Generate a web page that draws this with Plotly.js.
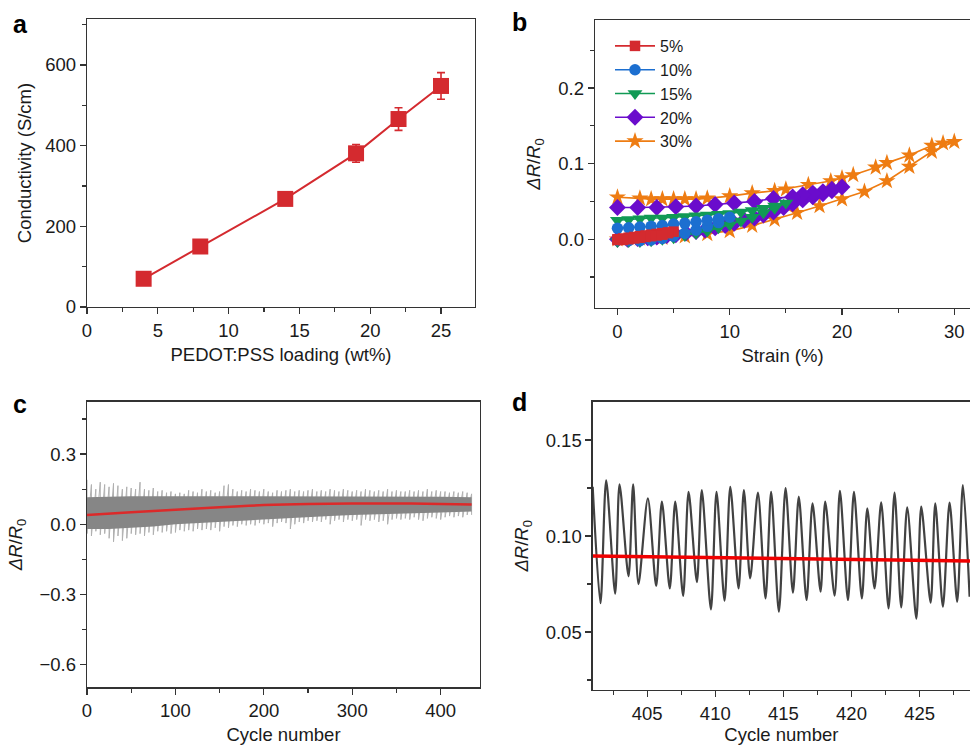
<!DOCTYPE html>
<html><head><meta charset="utf-8">
<script src="https://cdn.plot.ly/plotly-3.0.1.min.js"></script>
<style>body{margin:0;background:#fff}#chart{width:970px;height:745px}</style>
</head><body><div id="chart"></div>
<script>
// ---------- Panel a ----------
const loading = [4, 8, 14, 19, 22, 25];
const conductivity = [70, 150, 268, 381, 466, 548];
const conductivityErr = [6, 6, 6, 22, 28, 33];

// ---------- Panel b ----------
const strain5 = [0,0.5,1,1.5,2,2.5,3,3.5,4,4.5,5,4.5,4,3.5,3,2.5,2,1.5,1,0.5,0];
const dR5 = [0,0.001,0.002,0.003,0.004,0.005,0.006,0.007,0.008,0.009,0.010,0.008,0.006,0.005,0.004,0.003,0.002,0.001,0,-0.001,-0.001];
const strain10 = [0,1,2,3,4,5,6,7,8,9,10,9,8,7,6,5,4,3,2,1,0];
const dR10 = [-0.001,-0.002,-0.002,-0.001,0.001,0.004,0.008,0.012,0.017,0.022,0.029,0.027,0.025,0.023,0.021,0.020,0.018,0.017,0.016,0.015,0.0145];
const strain15 = [0,1,2,3,4,5,6,7,8,9,10,11,12,13,14,15,14,13,12,11,10,9,8,7,6,5,4,3,2,1,0];
const dR15 = [-0.003,-0.003,-0.003,-0.002,0.000,0.002,0.005,0.008,0.011,0.015,0.019,0.024,0.029,0.035,0.041,0.048,0.044,0.041,0.038,0.036,0.034,0.033,0.032,0.031,0.030,0.029,0.028,0.028,0.027,0.026,0.025];
const strain20 = [0,0.9,1.8,2.7,3.5,4.4,5.2,6.1,7,7.8,8.7,9.6,10.4,11.3,12.2,13,13.9,14.8,15.6,16.5,17.4,18.3,19.1,20,19.1,18.3,17.4,16.5,15.6,13.9,12.2,10.4,8.7,7,5.2,3.5,1.8,0];
const dR20 = [0,0,0.001,0.002,0.003,0.005,0.006,0.008,0.010,0.012,0.015,0.018,0.021,0.025,0.028,0.032,0.036,0.042,0.047,0.052,0.056,0.060,0.064,0.069,0.066,0.063,0.061,0.059,0.056,0.054,0.050,0.048,0.046,0.044,0.043,0.042,0.042,0.042];
const strain30 = [0,2,4,6,8,10,12,14,16,18,20,22,24,26,28,30,29,28,26,24,23,21,20,19,17,15,14,12,10,8,7,6,5,4,3,2,0];
const dR30 = [0,0.001,0.002,0.004,0.007,0.011,0.018,0.026,0.035,0.044,0.053,0.063,0.077,0.096,0.116,0.129,0.127,0.124,0.111,0.101,0.095,0.085,0.081,0.077,0.072,0.066,0.064,0.061,0.057,0.054,0.053,0.053,0.053,0.053,0.053,0.054,0.0555];
const seriesNames = ['5%','10%','15%','20%','30%'];

// ---------- Panel c ----------
const cCycle = [0,5,10,15,20,25,30,35,40,45,50,55,60,65,70,75,80,85,90,95,100,105,110,115,120,125,130,135,140,145,150,155,160,165,170,175,180,185,190,195,200,205,210,215,220,225,230,235,240,245,250,255,260,265,270,275,280,285,290,295,300,305,310,315,320,325,330,335,340,345,350,355,360,365,370,375,380,385,390,395,400,405,410,415,420,425,430,435];
const cPeak = [0.19,0.17,0.15,0.18,0.17,0.16,0.175,0.165,0.15,0.16,0.155,0.15,0.18,0.15,0.145,0.155,0.14,0.145,0.135,0.14,0.13,0.135,0.13,0.145,0.14,0.135,0.15,0.14,0.145,0.135,0.14,0.165,0.17,0.15,0.14,0.145,0.14,0.15,0.145,0.14,0.15,0.14,0.135,0.145,0.14,0.145,0.15,0.14,0.145,0.14,0.145,0.15,0.14,0.145,0.14,0.15,0.145,0.14,0.15,0.145,0.14,0.145,0.14,0.15,0.145,0.14,0.145,0.14,0.15,0.14,0.145,0.14,0.14,0.145,0.14,0.145,0.14,0.15,0.14,0.145,0.14,0.14,0.135,0.14,0.135,0.14,0.135,0.13];
const cTrough = [-0.04,-0.05,-0.03,-0.045,-0.04,-0.06,-0.075,-0.05,-0.07,-0.06,-0.04,-0.045,-0.04,-0.05,-0.035,-0.045,-0.03,-0.035,-0.03,-0.04,-0.035,-0.025,-0.03,-0.025,-0.03,-0.02,-0.025,-0.02,-0.025,-0.015,-0.03,-0.01,-0.015,-0.005,-0.01,0.0,-0.005,0.0,-0.005,0.005,0.0,0.005,-0.01,0.005,0.01,0.005,-0.02,0.0,0.01,0.005,0.015,0.01,0.015,0.01,0.02,0.0,0.015,0.02,0.01,0.02,0.015,0.02,-0.005,0.02,0.015,0.02,0.01,0.015,0.0,0.02,0.025,0.02,0.025,0.02,0.03,0.02,0.015,0.025,0.03,0.025,0.02,0.03,0.035,0.03,0.035,0.03,0.04,0.04];
const cCoreCycle = [0,25,50,75,100,125,150,175,200,225,250,275,300,325,350,375,400,435];
const cCoreHi = [0.115,0.118,0.12,0.12,0.12,0.12,0.12,0.12,0.12,0.12,0.12,0.12,0.12,0.12,0.12,0.12,0.118,0.115];
const cCoreLo = [-0.02,-0.02,-0.015,-0.01,0.0,0.005,0.01,0.015,0.02,0.025,0.03,0.035,0.04,0.042,0.045,0.048,0.05,0.055];
const cFitCycle = [0,50,100,150,200,250,300,350,400,435];
const cFitValue = [0.040,0.051,0.062,0.073,0.082,0.087,0.089,0.089,0.087,0.085];

// ---------- Panel d ----------
const dCycle = [401.0,401.57,401.99,402.65,402.97,403.63,403.97,404.36,405.05,405.66,406.08,406.66,407.06,407.64,408.04,408.65,409.01,409.68,410.09,410.68,411.1,411.71,412.1,412.56,413.13,413.69,414.1,414.67,415.16,415.7,416.13,416.7,417.14,417.73,418.07,418.76,419.15,419.74,420.18,420.76,421.16,421.69,422.18,422.72,423.16,423.65,424.09,424.76,425.12,425.81,426.15,426.71,427.2,427.76,428.18,428.67];
const dValue = [0.1257,0.065,0.129,0.070,0.127,0.079,0.127,0.075,0.1196,0.074,0.118,0.0727,0.118,0.0688,0.123,0.076,0.124,0.0618,0.123,0.0663,0.1257,0.0727,0.124,0.078,0.1226,0.0675,0.123,0.0606,0.125,0.0705,0.1205,0.0667,0.117,0.071,0.118,0.069,0.1236,0.0667,0.123,0.0675,0.1144,0.0727,0.1175,0.0623,0.1226,0.0628,0.115,0.057,0.1153,0.0653,0.117,0.0632,0.1174,0.0658,0.1266,0.0684];
const dFitCycle = [401, 428.7];
const dFitValue = [0.0896, 0.087];

// ---------- build ----------
const FONT = 'Liberation Sans, Arial, Helvetica, sans-serif';
const INK = '#1a1a1a';
const FS = 18.5;
const traces = [];

traces.push({x: loading, y: conductivity, xaxis:'x', yaxis:'y', type:'scatter', mode:'lines+markers',
  line:{color:'#d42a2f', width:2}, marker:{symbol:'square', size:16, color:'#d42a2f'},
  error_y:{type:'data', array: conductivityErr, visible:true, color:'#d42a2f', thickness:1.6, width:4},
  showlegend:false, hoverinfo:'skip'});

const bStrain = [strain5, strain10, strain15, strain20, strain30];
const bDR = [dR5, dR10, dR15, dR20, dR30];
const bColors = ['#d42a2f','#1c6fd0','#119a55','#6a0ccc','#ee7c12'];
const bSymbols = ['square','circle','triangle-down','diamond','star'];
const bSizes = [10.5, 11.5, 13, 13, 13];
for (let i = bStrain.length - 1; i >= 0; i--) {
  traces.push({x: bStrain[i], y: bDR[i], xaxis:'x2', yaxis:'y2', type:'scatter', mode:'lines+markers',
    name: seriesNames[i], line:{color:bColors[i], width:1.6},
    marker:{symbol:bSymbols[i], size:bSizes[i], color:bColors[i]}, hoverinfo:'skip'});
}

// panel c: raw oscillation (peaks/troughs) as zigzag
const zx = [], zy = [];
cCycle.forEach((c, i) => { zx.push(c, c); zy.push(cPeak[i], cTrough[i]); });
traces.push({x: zx, y: zy, xaxis:'x3', yaxis:'y3', type:'scatter', mode:'lines',
  line:{color:'#b0b0b0', width:1}, showlegend:false, hoverinfo:'skip'});
traces.push({x: cCoreCycle.concat(cCoreCycle.slice().reverse()), y: cCoreHi.concat(cCoreLo.slice().reverse()),
  xaxis:'x3', yaxis:'y3', type:'scatter', mode:'lines', fill:'toself', fillcolor:'#868686',
  line:{width:0, color:'#868686'}, showlegend:false, hoverinfo:'skip'});
traces.push({x: cFitCycle, y: cFitValue, xaxis:'x3', yaxis:'y3', type:'scatter', mode:'lines',
  line:{color:'#dc2a2a', width:2.5, shape:'spline'}, showlegend:false, hoverinfo:'skip'});

traces.push({x: dCycle, y: dValue, xaxis:'x4', yaxis:'y4', type:'scatter', mode:'lines',
  line:{color:'#424242', width:2.2, shape:'spline', smoothing:0.8}, showlegend:false, hoverinfo:'skip'});
traces.push({x: dFitCycle, y: dFitValue, xaxis:'x4', yaxis:'y4', type:'scatter', mode:'lines',
  line:{color:'#f00000', width:3.5}, showlegend:false, hoverinfo:'skip'});

function ax(o) {
  return Object.assign({showgrid:false, zeroline:false, showline:true, linecolor:'#333', linewidth:1.3,
    ticks:'outside', ticklen:6, tickwidth:1.3, tickcolor:'#333', automargin:false,
    tickfont:{family:FONT, size:FS, color:INK}, mirror:true}, o);
}
function minor(d) { return {ticks:'outside', ticklen:4, tickwidth:1.2, tickcolor:'#333', dtick:d, showgrid:false}; }
const ttl = (t, s) => ({text:t, font:{family:FONT, size:FS, color:INK}, standoff:s});
const dRR = '<i>ΔR</i>/<i>R</i><sub>0</sub>';

const W = 970, H = 745;
const xd = (a, b) => [a / W, Math.min(1, b / W)];
const yd = (top, bot) => [1 - bot / H, 1 - top / H];

const layout = {
  width: W, height: H, margin:{l:0, r:0, t:0, b:0}, paper_bgcolor:'#fff', plot_bgcolor:'#fff',
  font:{family:FONT, color:INK},
  xaxis: ax({domain: xd(87, 475), range:[0, 27.4], dtick:5, tick0:0, minor:minor(2.5), anchor:'y',
    title: ttl('PEDOT:PSS loading (wt%)', 8)}),
  yaxis: ax({domain: yd(19, 307), range:[0, 714], dtick:200, tick0:0, minor:minor(100), anchor:'x',
    title: ttl('Conductivity (S/cm)', 8)}),
  xaxis2: ax({domain: xd(595, 970), range:[-2, 31.4], dtick:10, tick0:0, minor:minor(5), anchor:'y2',
    title: ttl('Strain (%)', 8)}),
  yaxis2: ax({domain: yd(20, 308), range:[-0.091, 0.29], dtick:0.1, tick0:0, tickformat:'.1f', minor:minor(0.05),
    anchor:'x2', mirror:false, title: ttl(dRR, 12)}),
  xaxis3: ax({domain: xd(87, 480), range:[0, 444.5], dtick:100, tick0:0, minor:minor(50), anchor:'y3',
    title: ttl('Cycle number', 9)}),
  yaxis3: ax({domain: yd(401.7, 687.3), range:[-0.697, 0.524], dtick:0.3, tick0:0, tickformat:'.1f', minor:minor(0.15),
    anchor:'x3', title: ttl(dRR, 12)}),
  xaxis4: ax({domain: xd(592.7, 970), range:[401, 428.7], dtick:5, tick0:400, minor:minor(2.5), anchor:'y4',
    title: ttl('Cycle number', 10)}),
  yaxis4: ax({domain: yd(401.7, 690), range:[0.0198, 0.17], dtick:0.05, tick0:0, tickformat:'.2f', minor:minor(0.025),
    anchor:'x4', mirror:false, title: ttl(dRR, 12)}),
  legend: {x: 610/W, y: 1 - 29/H, xanchor:'left', yanchor:'top', traceorder:'reversed', bgcolor:'rgba(0,0,0,0)',
    font:{family:FONT, size:16, color:INK}, itemsizing:'trace', tracegroupgap:0, itemwidth:40},
  annotations: [
    {text:'<b>a</b>', x: 11/W, y: 1 - 24/H},
    {text:'<b>b</b>', x: 510/W, y: 1 - 22/H},
    {text:'<b>c</b>', x: 11/W, y: 1 - 404/H},
    {text:'<b>d</b>', x: 510/W, y: 1 - 402/H}
  ].map(a => Object.assign({xref:'paper', yref:'paper', xanchor:'left', yanchor:'middle', showarrow:false,
    font:{family:FONT, size:25, color:'#000'}}, a))
};

Plotly.newPlot('chart', traces, layout, {staticPlot:true, displayModeBar:false});
</script>
</body></html>
